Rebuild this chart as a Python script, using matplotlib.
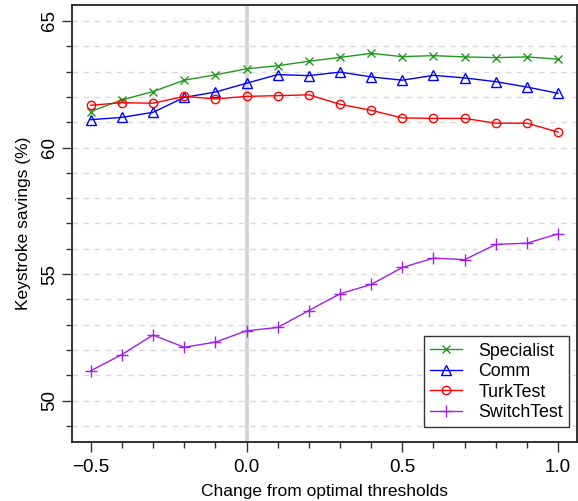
import numpy as np
import matplotlib
matplotlib.use('Agg')
import matplotlib.pyplot as plt
from matplotlib.ticker import MultipleLocator

plt.rcParams['font.family'] = ['Liberation Sans', 'DejaVu Sans']

thresholds = [-0.5, -0.4, -0.3, -0.2, -0.1, 0.0, 0.1, 0.2, 0.3, 0.4, 0.5, 0.6, 0.7, 0.8, 0.9, 1.0]
specialist = [61.42, 61.88, 62.21, 62.66, 62.87, 63.11, 63.23, 63.41, 63.56, 63.72, 63.59, 63.63, 63.58, 63.55, 63.58, 63.49]
comm = [61.10, 61.19, 61.39, 61.98, 62.19, 62.54, 62.88, 62.84, 62.98, 62.79, 62.66, 62.85, 62.75, 62.60, 62.39, 62.14]
turktest = [61.67, 61.77, 61.75, 62.02, 61.92, 62.02, 62.05, 62.08, 61.71, 61.47, 61.17, 61.15, 61.15, 60.96, 60.96, 60.61]
switchtest = [51.18, 51.82, 52.59, 52.11, 52.31, 52.76, 52.89, 53.56, 54.22, 54.59, 55.26, 55.63, 55.57, 56.17, 56.22, 56.59]

fig = plt.figure(figsize=(5.78, 5.01), dpi=100)
ax = fig.add_axes([0.1246, 0.118, 0.8734, 0.872])

# grid and reference line
for yv in range(49, 66):
    ax.axhline(yv, color='#d9d9d9', lw=1, ls=(0, (4, 4)), zorder=0)
ax.axvline(0, color='#d3d3d3', lw=2.7, zorder=1)

ax.plot(thresholds, specialist, color='#1f9a1f', lw=1, marker='x', ms=6, mew=1, label='Specialist')
ax.plot(thresholds, comm, color='#0000ff', lw=1, marker='^', ms=7, mfc='none', mew=1, label='Comm')
ax.plot(thresholds, turktest, color='#ff0000', lw=1, marker='o', ms=6, mfc='none', mew=1, label='TurkTest')
ax.plot(thresholds, switchtest, color='#a020f0', lw=1, marker='+', ms=8, mew=1, label='SwitchTest')

ax.set_xlim(-0.56, 1.06)
ax.set_ylim(48.37, 65.63)
ax.xaxis.set_minor_locator(MultipleLocator(0.1))
ax.yaxis.set_major_locator(MultipleLocator(5))
ax.yaxis.set_minor_locator(MultipleLocator(1))
ax.set_xticks([-0.5, 0.0, 0.5, 1.0], ['\u22120.5', '0.0', '0.5', '1.0'])
ax.tick_params(which='major', length=7, width=1, labelsize=13.5, direction='out', color='#333333')
ax.tick_params(which='minor', length=4, width=1, direction='out', color='#333333')
ax.tick_params(axis='y', pad=3)
ax.tick_params(axis='x', pad=5)
for lab in ax.get_yticklabels():
    lab.set_rotation(90)
    lab.set_va('center')

for s in ax.spines.values():
    s.set_linewidth(1.3)
    s.set_color('#222222')

ax.set_xlabel('Change from optimal thresholds', fontsize=12.5, labelpad=6)
ax.set_ylabel('Keystroke savings (%)', fontsize=12.5, labelpad=7)

leg = ax.legend(loc='lower right', bbox_to_anchor=(0.985, 0.033), fontsize=12.8,
                frameon=True, fancybox=False, edgecolor='#333333', framealpha=1,
                handlelength=1.8, handletextpad=0.9, borderpad=0.35, labelspacing=0.2,
                borderaxespad=0)
leg.get_frame().set_linewidth(1)

fig.savefig('out.png', dpi=100)
